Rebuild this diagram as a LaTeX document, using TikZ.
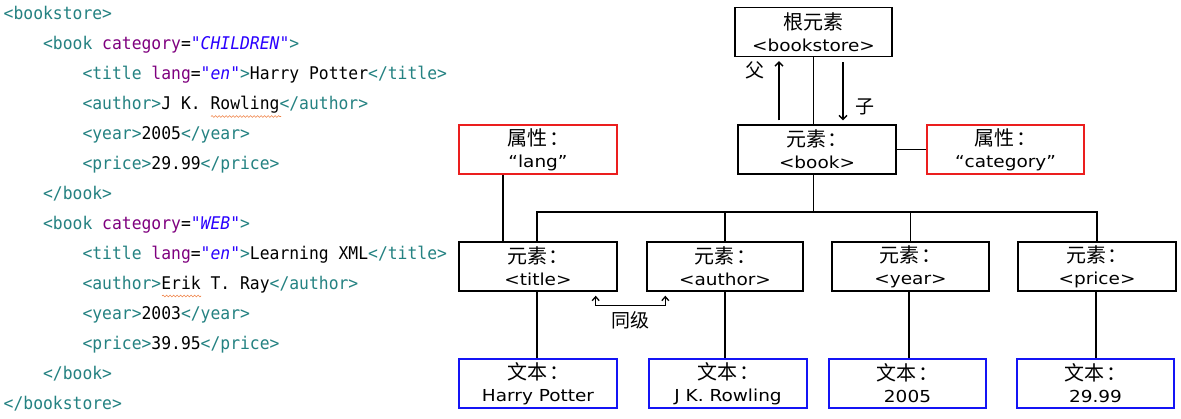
\documentclass[tikz,border=0pt]{standalone}
\usepackage{fontspec}
\usetikzlibrary{arrows.meta,calc,decorations.pathmorphing}
\newfontfamily\cjk{Noto Sans CJK SC}
\newfontfamily\lat[FakeStretch=1.12]{DejaVu Sans}
\newfontfamily\codefont[Ligatures=TeXOff,FakeStretch=0.935]{DejaVu Sans Mono}
\definecolor{tagc}{RGB}{36,130,130}
\definecolor{attc}{RGB}{127,0,127}
\definecolor{valc}{RGB}{42,0,255}
\definecolor{redb}{RGB}{235,30,30}
\definecolor{blueb}{RGB}{20,20,245}
\definecolor{squigc}{RGB}{240,130,70}
\newcommand\tg[1]{\textcolor{tagc}{#1}}
\newcommand\an[1]{\textcolor{attc}{#1}}
\newcommand\av[1]{\textcolor{valc}{\itshape #1}}
\newcommand\cj[1]{{\cjk\fontsize{20}{22}\selectfont #1}}
\begin{document}
\begin{tikzpicture}[x=1pt,y=-1pt,
  box/.style={draw, line width=1.4pt, minimum width=157pt, minimum height=49pt,
    inner sep=0pt, align=center, font=\fontsize{16.5}{22}\selectfont},
  elem/.style={box, draw=black},
  attr/.style={box, draw=redb, line width=1.6pt},
  txt/.style={box, draw=blueb, line width=1.6pt},
  code/.style={anchor=base west, inner sep=0pt, font=\codefont\fontsize{17.5}{20}\selectfont},
  link/.style={line width=1.4pt},
  pcarrow/.style={-{Straight Barb[length=4pt,width=8pt]}, line width=1.3pt},
  sib/.style={{Straight Barb[length=4pt,width=7pt]}-{Straight Barb[length=4pt,width=7pt]}, line width=1.3pt},
  lbl/.style={font=\cjk\fontsize{19}{20}\selectfont, inner sep=0pt},
  squig/.style={draw=squigc, line width=0.6pt, decorate,
    decoration={snake, amplitude=0.9pt, segment length=3.5pt}}
]
\fill[white] (0,0) rectangle (1181,418);
\useasboundingbox (0,0) rectangle (1181,418);

% ---- XML code ----
\node[code] (c1)  at (3.5,19)   {\tg{<bookstore>}};
\node[code] (c2)  at (42.9,49)  {\tg{<book} \an{category}=\av{"CHILDREN"}\tg{>}};
\node[code] (c3)  at (82.3,79)  {\tg{<title} \an{lang}=\av{"en"}\tg{>}Harry Potter\tg{</title>}};
\node[code] (c4)  at (82.3,109) {\tg{<author>}J K. Rowling\tg{</author>}};
\node[code] (c5)  at (82.3,139) {\tg{<year>}2005\tg{</year>}};
\node[code] (c6)  at (82.3,169) {\tg{<price>}29.99\tg{</price>}};
\node[code] (c7)  at (42.9,199) {\tg{</book>}};
\node[code] (c8)  at (42.9,229) {\tg{<book} \an{category}=\av{"WEB"}\tg{>}};
\node[code] (c9)  at (82.3,259) {\tg{<title} \an{lang}=\av{"en"}\tg{>}Learning XML\tg{</title>}};
\node[code] (c10) at (82.3,289) {\tg{<author>}Erik T. Ray\tg{</author>}};
\node[code] (c11) at (82.3,319) {\tg{<year>}2003\tg{</year>}};
\node[code] (c12) at (82.3,349) {\tg{<price>}39.95\tg{</price>}};
\node[code] (c13) at (42.9,379) {\tg{</book>}};
\node[code] (c14) at (3.5,409)  {\tg{</bookstore>}};
\draw[squig] (211,116.5) -- (281,116.5);
\draw[squig] (162,296) -- (201,296);

% ---- tree ----
\node[elem] (root) at (813.5,32) {\cj{根元素}\\{\lat <bookstore>}};
\node[elem, minimum width=158pt] (book) at (817,149.5) {\cj{元素\kern2pt：}\\{\lat <book>}};
\node[attr, minimum width=158pt] (lang) at (538,149.5) {\cj{属性\kern2pt：}\\{\lat “lang”}};
\node[attr] (cat) at (1005.5,149.5) {\cj{属性\kern2pt：}\\{\lat “category”}};
\node[elem, minimum width=158pt] (title) at (538,266.5) {\cj{元素\kern2pt：}\\{\lat <title>}};
\node[elem, minimum width=156pt] (author) at (725,266.5) {\cj{元素\kern2pt：}\\{\lat <author>}};
\node[elem] (year) at (910.5,266.5) {\cj{元素\kern2pt：}\\{\lat <year>}};
\node[elem, minimum width=158pt] (price) at (1097,266.5) {\cj{元素\kern2pt：}\\{\lat <price>}};
\node[txt, minimum width=158pt] (t1) at (538,383.5) {\cj{文本\kern2pt：}\\{\lat Harry Potter}};
\node[txt, minimum width=158pt] (t2) at (728,383.5) {\cj{文本\kern2pt：}\\{\lat J K. Rowling}};
\node[txt] (t3) at (907.5,383.5) {\cj{文本\kern2pt：}\\{\lat 2005}};
\node[txt] (t4) at (1095.5,383.5) {\cj{文本\kern2pt：}\\{\lat 29.99}};

% root - book
\draw[link] (root.south) -- (root.south |- book.north);
\coordinate (pf) at ($(root.south)+(-34.5,0)$);
\coordinate (pcx) at ($(root.south)+(29.5,0)$);
\draw[pcarrow] ($(pf |- book.north)+(0,-4)$) -- ($(pf)+(0,4)$);
\draw[pcarrow] ($(pcx)+(0,5)$) -- ($(pcx |- book.north)+(0,-4)$);
\node[lbl] (fu) at (755,70) {父};
\node[lbl] (zi) at (865,107) {子};

% attributes
\draw[link] (book.east) -- (cat.west);
\coordinate (lx) at ($(lang.south)+(-35,0)$);
\draw[link] (lx) -- (lx |- title.north);

% bus
\coordinate (busy) at (0,212);
\draw[link] (book.south -| root.south) -- (root.south |- busy);
\draw[link] ($(title.north)+(-1,0)$) |- (price.north |- busy) -- (price.north);
\draw[link] (author.north) -- (author.north |- busy);
\draw[link] (year.north) -- (year.north |- busy);

% element - text
\draw[link] ($(title.south)+(-1,0)$) -- ($(title.south |- t1.north)+(-1,0)$);
\draw[link] (author.south) -- (author.south |- t2.north);
\draw[link] ($(year.south)+(-1.5,0)$) -- ($(year.south |- t3.north)+(-1.5,0)$);
\draw[link] ($(price.south)+(-1,0)$) -- ($(price.south |- t4.north)+(-1,0)$);

% siblings
\coordinate (sl) at ($(title.south east)+(-22,4)$);
\coordinate (sr) at ($(author.south west)+(19,4)$);
\draw[sib] (sl) -- ++(0,10) -| (sr);
\node[lbl] (tongji) at (630,320) {同级};
\end{tikzpicture}
\end{document}
